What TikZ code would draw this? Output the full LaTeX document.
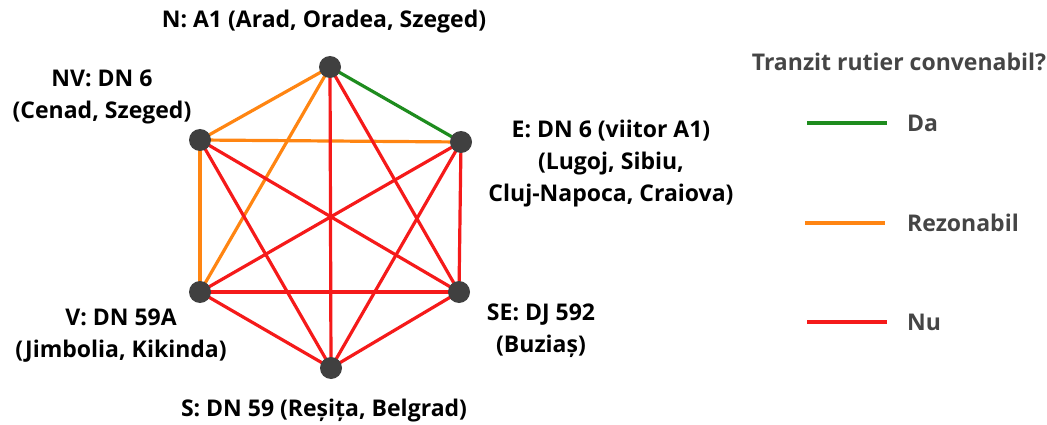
\documentclass[tikz,border=0pt]{standalone}
\usepackage{fontspec}
\setmainfont{Open Sans}
\usetikzlibrary{backgrounds}
\definecolor{dagreen}{HTML}{1E8C1E}
\definecolor{rezorange}{HTML}{FF8512}
\definecolor{nured}{HTML}{F51A1A}
\definecolor{dotgray}{HTML}{404040}
\definecolor{leggray}{HTML}{454545}
\tikzset{
  city/.style={circle, fill=dotgray, minimum size=22pt, inner sep=0pt},
  lbl/.style={font=\bfseries\fontsize{23}{32}\selectfont, text=black, align=center, inner sep=0pt},
  legtext/.style={font=\bfseries\fontsize{23}{32}\selectfont, text=leggray, inner sep=0pt},
  da/.style={draw=dagreen, line width=3.2pt},
  rez/.style={draw=rezorange, line width=3.2pt},
  nu/.style={draw=nured, line width=3.2pt},
}
\begin{document}
\begin{tikzpicture}[x=1pt,y=-1pt]
\useasboundingbox (0,0) rectangle (1047,425);
% cities
\node[city] (N) at (330,67) {};
\node[city] (NV) at (200,140) {};
\node[city] (E) at (461,142) {};
\node[city] (V) at (200,292) {};
\node[city] (SE) at (459,292) {};
\node[city] (S) at (331,368) {};
% edges
\begin{scope}[on background layer]
\draw[da] (N.center) -- (E.center);
\draw[rez] (N.center) -- (NV.center);
\draw[rez] (N.center) -- (V.center);
\draw[rez] (NV.center) -- (V.center);
\draw[rez] (NV.center) -- (E.center);
\draw[nu] (N.center) -- (SE.center);
\draw[nu] (N.center) -- (S.center);
\draw[nu] (NV.center) -- (SE.center);
\draw[nu] (NV.center) -- (S.center);
\draw[nu] (E.center) -- (V.center);
\draw[nu] (E.center) -- (SE.center);
\draw[nu] (E.center) -- (S.center);
\draw[nu] (V.center) -- (SE.center);
\draw[nu] (V.center) -- (S.center);
\draw[nu] (SE.center) -- (S.center);
\end{scope}
% labels
\node[lbl] (lN) at (324,22) {N: A1 (Arad, Oradea, Szeged)};
\node[lbl] (lNV) at (102,97) {NV: DN 6\\(Cenad, Szeged)};
\node[lbl] (lE) at (611,164) {E: DN 6 (viitor A1)\\(Lugoj, Sibiu,\\Cluj-Napoca, Craiova)};
\node[lbl] (lV) at (121,336) {V: DN 59A\\(Jimbolia, Kikinda)};
\node[lbl] (lSE) at (541,331) {SE: DJ 592\\(Buziaș)};
\node[lbl] (lS) at (324,411) {S: DN 59 (Reșița, Belgrad)};
% legend
\node[legtext] (title) at (899,62) {Tranzit rutier convenabil?};
\coordinate (da1) at (807,123); \coordinate (da2) at (887,123);
\coordinate (rz1) at (805,223); \coordinate (rz2) at (885,223);
\coordinate (nu1) at (807,322); \coordinate (nu2) at (887,322);
\draw[da] (da1) -- (da2);
\draw[rez] (rz1) -- (rz2);
\draw[nu] (nu1) -- (nu2);
\node[legtext, anchor=west] (tda) at (907,123) {Da};
\node[legtext, anchor=west] (trz) at (907,223) {Rezonabil};
\node[legtext, anchor=west] (tnu) at (907,322) {Nu};
\end{tikzpicture}
\end{document}
